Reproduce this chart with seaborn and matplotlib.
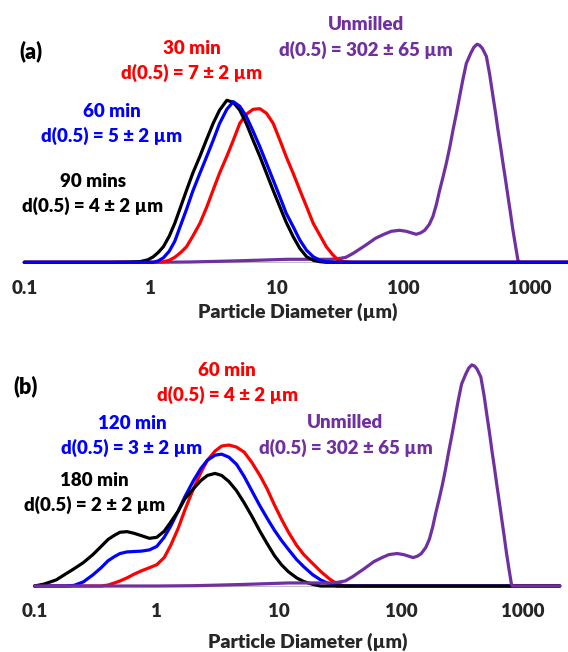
import numpy as np
import pandas as pd
import matplotlib
matplotlib.use("Agg")
import matplotlib.pyplot as plt
import seaborn as sns
from matplotlib.ticker import NullLocator

# particle diameters (um) for milled samples, panel (a)
d_a = [0.1, 0.5, 0.7, 0.82, 0.95, 1.05, 1.15, 1.26, 1.4, 1.55, 1.72, 1.92, 2.15, 2.45, 2.77,
       3.12, 3.5, 4.0, 4.5, 5.07, 5.7, 6.46, 7.3, 8.24, 9.3, 10.5, 11.8, 13.4, 15.1, 17.1,
       19.3, 21.8, 24.5, 27.5, 30, 34, 40, 2000]
min30_a = [0, 0, 0, 0, 0, 0, 0, 0.025, 0.1, 0.25, 0.48, 0.78, 1.3, 1.95, 2.75,
           3.62, 4.45, 5.3, 6.1, 6.95, 7.4, 7.65, 7.68, 7.45, 6.95, 6.12, 5.28, 4.45, 3.62, 2.78,
           1.95, 1.35, 0.78, 0.38, 0.15, 0.025, 0, 0]
min60_a = [0, 0, 0, 0, 0, 0, 0.075, 0.225, 0.55, 1.05, 1.83, 2.65, 3.55, 4.45, 5.28,
           6.1, 6.93, 7.65, 8.03, 7.8, 7.3, 6.55, 5.78, 4.95, 4.12, 3.28, 2.45, 1.78, 1.12, 0.6,
           0.28, 0.1, 0.025, 0, 0, 0, 0, 0]
min90_a = [0, 0, 0.015, 0.03, 0.125, 0.28, 0.5, 0.78, 1.3, 1.95, 2.75, 3.6, 4.45, 5.3, 6.15,
           6.95, 7.6, 8.1, 8.0, 7.6, 6.95, 6.1, 5.3, 4.45, 3.6, 2.78, 2.0, 1.28, 0.7, 0.28,
           0.1, 0.03, 0, 0, 0, 0, 0, 0]

# panel (b)
d_b = [0.1, 0.12, 0.15, 0.18, 0.21, 0.25, 0.3, 0.35, 0.4, 0.45, 0.5, 0.57, 0.65, 0.75, 0.87,
       1.0, 1.15, 1.3, 1.5, 1.7, 2.0, 2.3, 2.6, 3.0, 3.4, 3.9, 4.5, 5.2, 6.0, 7.0, 8.0, 9.2,
       10.5, 12, 14, 16, 19, 22, 26, 30, 35, 2000]
min60_b = [0, 0, 0, 0, 0, 0, 0, 0, 0.05, 0.15, 0.25, 0.4, 0.58, 0.75, 0.9,
           1.05, 1.4, 2.0, 2.85, 3.75, 4.8, 5.6, 6.2, 6.65, 6.9, 6.95, 6.85, 6.6, 6.1, 5.45, 4.8, 4.0,
           3.3, 2.65, 2.0, 1.55, 1.1, 0.72, 0.35, 0.1, 0, 0]
min120_b = [0, 0, 0, 0, 0.03, 0.2, 0.55, 0.9, 1.25, 1.45, 1.6, 1.68, 1.7, 1.72, 1.78,
            1.95, 2.4, 2.95, 3.7, 4.4, 5.2, 5.8, 6.2, 6.45, 6.5, 6.35, 6.0, 5.4, 4.7, 3.95, 3.35, 2.75,
            2.25, 1.8, 1.3, 0.95, 0.55, 0.3, 0.1, 0, 0, 0]
min180_b = [0, 0.1, 0.3, 0.6, 0.85, 1.15, 1.55, 1.95, 2.3, 2.5, 2.65, 2.68, 2.6, 2.48, 2.35,
            2.4, 2.7, 3.15, 3.7, 4.3, 4.8, 5.2, 5.45, 5.55, 5.45, 5.15, 4.7, 4.1, 3.45, 2.7, 2.1, 1.5,
            1.05, 0.7, 0.4, 0.22, 0.08, 0, 0, 0, 0, 0]

# unmilled sample (same in both panels)
d_un = [0.1, 1, 2, 3, 5, 8, 12, 20, 26, 30, 35, 40, 50, 60, 70, 80, 93, 105, 115, 126,
        137, 147, 160, 171, 182, 193, 205, 218, 232, 246, 262, 278, 295, 314, 340, 360, 381, 400,
        420, 452, 480, 510, 535, 559, 585, 612, 640, 670, 700, 734, 770, 804, 820, 2000]
unmilled = [0, 0, 0.015, 0.04, 0.075, 0.115, 0.15, 0.15, 0.15, 0.175, 0.25, 0.45, 0.85, 1.2, 1.4,
            1.55, 1.6, 1.55, 1.475, 1.4, 1.475, 1.6, 1.9, 2.3, 2.9, 3.6, 4.25, 4.95, 5.75, 6.6,
            7.45, 8.3, 9.15, 9.95, 10.45, 10.75, 10.9, 10.85, 10.7, 10.3, 9.4, 8.3, 7.45, 6.6, 5.8,
            4.95, 4.15, 3.3, 2.5, 1.6, 0.8, 0.1, 0, 0]

ticks = [0.1, 1, 10, 100, 1000]
tick_labels = ["0.1", "1", "10", "100", "1000"]

PURPLE = "#7030A0"

sns.set_style("white")
plt.rcParams["font.family"] = ["Lato", "DejaVu Sans"]

W, H = 568, 652
fig = plt.figure(figsize=(W / 100, H / 100), dpi=100)
ax_a = fig.add_axes([24.3 / W, 1 - 262.3 / H, 543.7 / W, 232 / H])
ax_b = fig.add_axes([34.7 / W, 1 - 586 / H, 525 / W, 235.3 / H])

# drawing order matters: last one sits on top along the baseline
series_a = [(d_un, unmilled, PURPLE), (d_a, min30_a, "red"),
            (d_a, min90_a, "black"), (d_a, min60_a, "blue")]
series_b = [(d_b, min60_b, "red"), (d_b, min120_b, "blue"),
            (d_b, min180_b, "black"), (d_un, unmilled, PURPLE)]

FS = 13.5
for ax, series in [(ax_a, series_a), (ax_b, series_b)]:
    for i, (d, v, c) in enumerate(series):
        df = pd.DataFrame({"d": d, "vol": v})
        sns.lineplot(data=df, x="d", y="vol", color=c, ax=ax, lw=2.3,
                     errorbar=None, clip_on=False, zorder=3 + i)
    ax.set_xscale("log")
    ax.set_xlim(0.1, 2000)
    ax.set_ylim(0, 11.6)
    ax.set_xticks(ticks, labels=tick_labels)
    ax.xaxis.set_minor_locator(NullLocator())
    ax.tick_params(axis="x", length=4, width=1, color="#BFBFBF", pad=8.5, labelsize=FS)
    for lab in ax.get_xticklabels():
        lab.set_fontweight("heavy")
    ax.set_yticks([])
    ax.set_ylabel("")
    for s in ["left", "right", "top"]:
        ax.spines[s].set_visible(False)
    ax.spines["bottom"].set_color("#BFBFBF")
    ax.set_xlabel("Particle Diameter (\u00b5m)", fontsize=14, fontweight="heavy")
    ax.xaxis.label.set_va("center")

ax_a.xaxis.set_label_coords(0.503, -50 / 232)
ax_b.xaxis.set_label_coords(0.52, -56 / 235.3)

panel_tags = [("(a)", 30.5, 51.7), ("(b)", 25.6, 386.7)]
for text, x, y in panel_tags:
    fig.text(x / W, 1 - y / H, text, color="black", fontsize=15.5, fontweight="heavy",
             ha="center", va="center")

labels = [
    ("30 min", 192, 49, "red"), ("d(0.5) = 7 \u00b1 2 \u00b5m", 192, 72.7, "red"),
    ("60 min", 112, 111.7, "blue"), ("d(0.5) = 5 \u00b1 2 \u00b5m", 112, 136, "blue"),
    ("90 mins", 93, 181.7, "black"), ("d(0.5) = 4 \u00b1 2 \u00b5m", 92.5, 206, "black"),
    ("Unmilled", 366.5, 25, PURPLE), ("d(0.5) = 302 \u00b1 65 \u00b5m", 366.3, 50, PURPLE),
    ("60 min", 226.6, 370, "red"), ("d(0.5) = 4 \u00b1 2 \u00b5m", 227.5, 395, "red"),
    ("120 min", 132, 423.3, "blue"), ("d(0.5) = 3 \u00b1 2 \u00b5m", 131.5, 448.3, "blue"),
    ("180 min", 94.4, 480, "black"), ("d(0.5) = 2 \u00b1 2 \u00b5m", 94.3, 505, "black"),
    ("Unmilled", 345.2, 422.7, PURPLE), ("d(0.5) = 302 \u00b1 65 \u00b5m", 345.5, 448.3, PURPLE),
]
for text, x, y, c in labels:
    fig.text(x / W, 1 - y / H, text, color=c, fontsize=FS, fontweight="heavy",
             ha="center", va="center")

fig.savefig("out.png", dpi=100)
